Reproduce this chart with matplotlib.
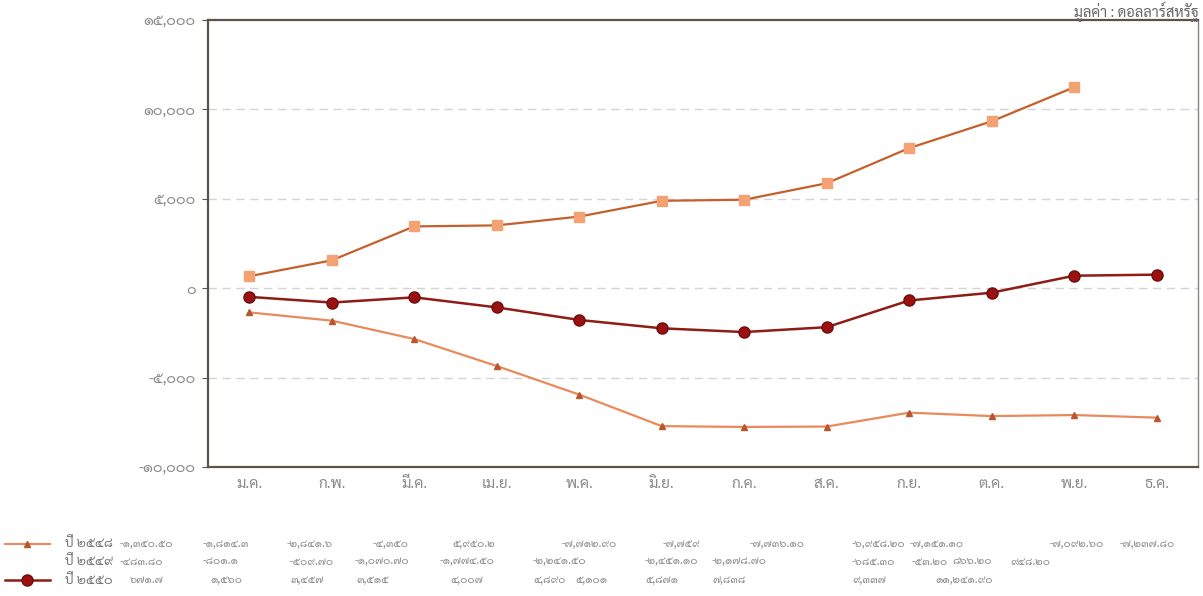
"""
Monthly balance chart (Thai labels), values in Thai numerals, with the
small data table under the plot.
"""

import matplotlib
matplotlib.use("Agg")
import matplotlib.pyplot as plt
from matplotlib import font_manager
from matplotlib.lines import Line2D


# ---------------------- data ---------------------- #

months = ["ม.ค.", "ก.พ.", "มี.ค.", "เม.ย.", "พ.ค.", "มิ.ย.",
          "ก.ค.", "ส.ค.", "ก.ย.", "ต.ค.", "พ.ย.", "ธ.ค."]

# triangles (light orange line)
y2548 = [-1350.5, -1814.3, -2841.6, -4350, -5950.2, -7712.9,
         -7759, -7736.1, -6958.2, -7151.1, -7092.6, -7237.8]
# circles (dark red)
y2549 = [-483.8, -801.1, -509.7, -1070.7, -1774.5, -2241.5,
         -2451.1, -2178.7, -685.3, -250, 700, 760]
# squares (Jan - Nov only)
y2550 = [671.7, 1560, 3457, 3515, 4007, 4890,
         4950, 5871, 7838, 9337, 11241.9]

yticks = [-10000, -5000, 0, 5000, 10000, 15000]
ytick_labels = ["-๑๐,๐๐๐", "-๕,๐๐๐", "๐", "๕,๐๐๐", "๑๐,๐๐๐", "๑๕,๐๐๐"]

row_labels = ["ปี ๒๕๔๘", "ปี ๒๕๔๙", "ปี ๒๕๕๐"]
row1_text = ["-๑,๓๕๐.๕๐", "-๑,๘๑๔.๓", "-๒,๘๔๑.๖", "-๔,๓๕๐", "๕,๙๕๐.๒",
             "-๗,๗๑๒.๙๐", "-๗,๗๕๙", "-๗,๗๓๖.๑๐", "-๖,๙๕๘.๒๐", "-๗,๑๕๑.๑๐",
             "-๗,๐๙๒.๖๐", "-๗,๒๓๗.๘๐"]
row2_text = ["-๔๘๓.๘๐", "-๘๐๑.๑", "-๕๐๙.๗๐", "-๑,๐๗๐.๗๐", "-๑,๗๗๔.๕๐",
             "-๒,๒๔๑.๕๐", "-๒,๔๕๑.๑๐", "-๒,๑๗๘.๗๐", "-๖๘๕.๓๐", "-๕๓.๒๐",
             "๘๖๖.๒๐", "๙๔๘.๒๐"]
row3_text = ["๖๗๑.๗", "๑,๕๖๐", "๓,๔๕๗", "๓,๕๑๕", "๔,๐๐๗", "๔,๘๙๐",
             "๕,๑๐๑", "๕,๘๗๑", "๗,๘๓๘", "๙,๓๓๗", "๑๑,๒๔๑.๙๐"]

source_text = "มูลค่า : ดอลลาร์สหรัฐ"


# ---------------------- font ---------------------- #

def pick_thai_font():
    names = {f.name for f in font_manager.fontManager.ttflist}
    for cand in ["Sarabun", "Noto Sans Thai", "Athiti", "Bai Jamjuree", "Anuphan"]:
        if cand in names:
            return cand
    return "DejaVu Sans"


thai = pick_thai_font()
plt.rcParams["font.family"] = [thai, "DejaVu Sans"]

# ---------------------- plot ---------------------- #

c_tri = "#E98A5C"
c_tri_mk = "#B9562E"
c_sq = "#C4602C"
c_sq_mk = "#F4A273"
c_circ = "#8E1C17"
grey = "#8a8a8a"

fig = plt.figure(figsize=(12.03, 5.96), dpi=100)
ax = fig.add_axes([0.1729, 0.2164, 0.8229, 0.75])

x = list(range(len(months)))
ax.plot(x, y2548, color=c_tri, lw=1.6, marker="^", ms=5,
        mfc=c_tri_mk, mec=c_tri_mk, zorder=3)
ax.plot(x[:len(y2550)], y2550, color=c_sq, lw=1.6, marker="s", ms=7,
        mfc=c_sq_mk, mec=c_sq_mk, zorder=3)
ax.plot(x, y2549, color=c_circ, lw=1.8, marker="o", ms=8,
        mfc="#9B1010", mec="#6E0E0E", zorder=4)

ax.set_xlim(-0.5, len(months) - 0.5)
ax.set_ylim(-10000, 15000)
ax.set_yticks(yticks)
ax.set_yticklabels(ytick_labels, color=grey, fontsize=10.5)
ax.set_xticks(x)
ax.set_xticklabels(months, color=grey, fontsize=11)
ax.tick_params(axis="x", length=0, pad=7)
ax.tick_params(axis="y", length=4, color="#555555", pad=5)

for yv in yticks[1:-1]:
    ax.axhline(yv, color="#d4d4d4", lw=1, ls=(0, (6, 4)), zorder=1)

for side in ["left", "bottom", "top"]:
    ax.spines[side].set_color("#5b5446")
    ax.spines[side].set_linewidth(1.6)
ax.spines["right"].set_color("#8a8578")
ax.spines["right"].set_linewidth(1.0)

fig.text(0.996, 0.997, source_text, ha="right", va="top",
         fontsize=10.5, color="#666666")

# ---------------------- table under plot ---------------------- #

row_y = [0.088, 0.058, 0.027]
row1_x = [120, 203, 287, 373, 452, 562, 663, 750, 852, 910, 1050, 1120]
row2_x = [120, 203, 290, 355, 440, 533, 645, 712, 852, 912, 952, 1010]
row3_x = [130, 210, 290, 356, 450, 533, 575, 645, 712, 852, 935]

W = 1203.0
for lab, yy in zip(row_labels, row_y):
    fig.text(65 / W, yy, lab, ha="left", va="center", fontsize=9.5, color="#777777")

for texts, xs, yy in zip([row1_text, row2_text, row3_text],
                         [row1_x, row2_x, row3_x], row_y):
    for t, xp in zip(texts, xs):
        fig.text(xp / W, yy, t, ha="left", va="center", fontsize=7.8, color="#8a8a8a")

# legend keys
fig.add_artist(Line2D([5 / W, 50 / W], [row_y[0], row_y[0]], color=c_tri, lw=1.5,
                      transform=fig.transFigure))
fig.add_artist(Line2D([27 / W], [row_y[0]], marker="^", ms=5, color=c_tri_mk,
                      transform=fig.transFigure))
fig.add_artist(Line2D([5 / W, 50 / W], [row_y[2], row_y[2]], color=c_circ, lw=1.8,
                      transform=fig.transFigure))
fig.add_artist(Line2D([27 / W], [row_y[2]], marker="o", ms=8, color="#9B1010",
                      mec="#6E0E0E", transform=fig.transFigure))

fig.savefig("out.png", dpi=100)
